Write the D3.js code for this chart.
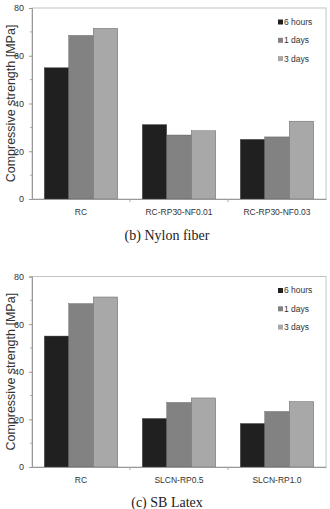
<!DOCTYPE html>
<html>
<head>
<meta charset="utf-8">
<title>Compressive strength</title>
<script src="https://cdnjs.cloudflare.com/ajax/libs/d3/7.8.5/d3.min.js"></script>
<style>
  body { margin: 0; background: #fff; }
  text { font-family: "Liberation Sans", Arial, sans-serif; fill: #333; }
  .caption { font-family: "Liberation Serif", "Times New Roman", serif; fill: #222; }
</style>
</head>
<body>
<script>
var series = ["6 hours", "1 days", "3 days"];
var colors = ["#202020", "#828282", "#a8a8a8"];
var yTicks = [0, 20, 40, 60, 80];

// (b) Nylon fiber
var catsB = ["RC", "RC-RP30-NF0.01", "RC-RP30-NF0.03"];
var hoursB = [55, 31.2, 25];
var day1B = [68.5, 26.8, 26];
var day3B = [71.5, 28.6, 32.6];

// (c) SB Latex
var catsC = ["RC", "SLCN-RP0.5", "SLCN-RP1.0"];
var hoursC = [55, 20.4, 18.3];
var day1C = [68.6, 27.1, 23.3];
var day3C = [71.4, 29, 27.5];

var width = 330, height = 509;
var svg = d3.select("body").append("svg")
    .attr("width", width)
    .attr("height", height);

function drawPanel(top, bottom, cats, vals, caption, captionY) {
    var left = 32, right = 326;

    var x = d3.scaleBand().domain(cats).range([left, right]);
    var xs = d3.scaleBand().domain(series).range([0, x.bandwidth()]).paddingOuter(0.5).paddingInner(0);
    var y = d3.scaleLinear().domain([0, 80]).range([bottom, top]);

    var g = svg.append("g");

    // frame
    g.append("rect")
        .attr("x", left).attr("y", top)
        .attr("width", right - left).attr("height", bottom - top)
        .attr("fill", "none").attr("stroke", "#c4c4c4").attr("stroke-width", 1);

    // bars
    cats.forEach(function (c, i) {
        series.forEach(function (s, j) {
            g.append("rect")
                .attr("x", x(c) + xs(s))
                .attr("y", y(vals[j][i]))
                .attr("width", xs.bandwidth())
                .attr("height", bottom - y(vals[j][i]))
                .attr("fill", colors[j])
                .attr("stroke", "#555")
                .attr("stroke-width", 0.4);
        });
    });

    // y axis
    var yAxis = d3.axisLeft(y).tickValues(yTicks).tickSize(3).tickPadding(5);
    var ya = g.append("g").attr("transform", "translate(" + left + ",0)").call(yAxis);
    ya.select(".domain").attr("stroke", "#999");
    ya.selectAll(".tick line").attr("stroke", "#999");
    ya.selectAll("text").attr("font-size", 9).attr("fill", "#333");
    // minor ticks
    g.selectAll(".minor").data([10, 30, 50, 70]).enter().append("line")
        .attr("x1", left - 2).attr("x2", left)
        .attr("y1", function (d) { return y(d); })
        .attr("y2", function (d) { return y(d); })
        .attr("stroke", "#aaa");

    // x axis
    var xAxis = d3.axisBottom(x).tickSize(0).tickPadding(10);
    var xa = g.append("g").attr("transform", "translate(0," + bottom + ")").call(xAxis);
    xa.select(".domain").attr("stroke", "#999");
    xa.selectAll("text").attr("font-size", 8.5).attr("fill", "#333");
    g.selectAll(".sep").data(cats.slice(1)).enter().append("line")
        .attr("x1", function (d) { return x(d); })
        .attr("x2", function (d) { return x(d); })
        .attr("y1", bottom).attr("y2", bottom + 3)
        .attr("stroke", "#aaa");

    // y title
    g.append("text")
        .attr("transform", "translate(11," + ((top + bottom) / 2) + ") rotate(-90)")
        .attr("text-anchor", "middle")
        .attr("dy", "0.35em")
        .attr("font-size", 12.5)
        .attr("fill", "#444")
        .text("Compressive strength [MPa]");

    // legend
    var lg = g.append("g").attr("transform", "translate(278," + (top + 14) + ")");
    series.forEach(function (s, j) {
        lg.append("rect")
            .attr("x", 0).attr("y", j * 18.3 - 2.5)
            .attr("width", 5).attr("height", 5)
            .attr("fill", colors[j]);
        lg.append("text")
            .attr("x", 6).attr("y", j * 18.3)
            .attr("dy", "0.35em")
            .attr("font-size", 8.5)
            .text(s);
    });

    // caption
    svg.append("text")
        .attr("class", "caption")
        .attr("x", 167).attr("y", captionY)
        .attr("text-anchor", "middle")
        .attr("dy", "0.35em")
        .attr("font-size", 14)
        .text(caption);
}

drawPanel(8, 199, catsB, [hoursB, day1B, day3B], "(b) Nylon fiber", 235);
drawPanel(276.5, 467, catsC, [hoursC, day1C, day3C], "(c) SB Latex", 502.5);
</script>
</body>
</html>
